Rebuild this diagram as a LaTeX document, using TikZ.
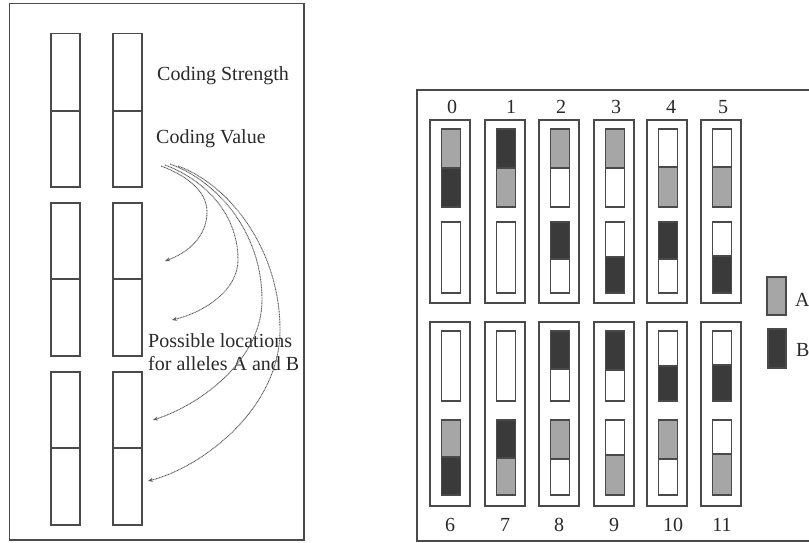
\documentclass[tikz,border=0pt]{standalone}
\usepackage{fontspec}
\setmainfont{Liberation Serif}
\usetikzlibrary{arrows.meta}
\definecolor{lc}{HTML}{4A4A4A}
\definecolor{alA}{HTML}{A6A6A6}
\definecolor{alB}{HTML}{3A3A3A}
\definecolor{tc}{HTML}{2A2A2A}
\newcommand{\pairbox}[6]{%
  \fill[#5] (#1,#2) rectangle (#1+19,#3);
  \fill[#6] (#1,#3) rectangle (#1+19,#4);
  \draw[box] (#1,#3) -- (#1+19,#3);
  \draw[box] (#1,#2) rectangle (#1+19,#4);}
\newcommand{\plainbox}[3]{%
  \draw[box,fill=white] (#1,#2) rectangle (#1+19,#3);}
\begin{document}
\begin{tikzpicture}[x=1pt,y=-1pt,
  box/.style={draw=lc,line width=1.1pt},
  lbl/.style={font=\fontsize{20}{23}\selectfont,inner sep=0pt,text=tc},
  patharrow/.style={draw=black!65,line width=0.9pt,dash pattern=on 1pt off 0.6pt,
    -{Stealth[length=5pt,width=4pt]}}]
\useasboundingbox (0,0) rectangle (809,543);
\clip (0,0) rectangle (809,543);
\fill[white] (0,0) rectangle (809,543);

% ---------- left panel ----------
\draw[box] (9.5,3.5) rectangle (304,540);
\foreach \x in {51,113}{
  \foreach \t/\m/\b in {33.5/111/187, 203/279/356, 372/448/525}{
    \draw[box] (\x,\t) rectangle (\x+29,\b);
    \draw[box] (\x,\m) -- (\x+29,\m);
  }
}
\node[lbl,anchor=base west] (cs) at (157,81) {Coding Strength};
\node[lbl,anchor=base west] (cv) at (156,143) {Coding Value};
\node[lbl,anchor=base west] (pl1) at (148,347) {Possible locations};
\node[lbl,anchor=base west] (pl2) at (148,370) {for alleles A and B};

\coordinate (s1) at (161,166);
\coordinate (s2) at (165,165);
\coordinate (s3) at (170,164);
\coordinate (s4) at (178,166);
\coordinate (e1) at (165,261);
\coordinate (e2) at (172,320);
\coordinate (e3) at (153,420);
\coordinate (e4) at (148,481);
\draw[patharrow] (s1) .. controls (185,175) and (207,190) .. (207,212)
  .. controls (207,235) and (190,252) .. (e1);
\draw[patharrow] (s2) .. controls (200,178) and (238,210) .. (238,260)
  .. controls (238,290) and (205,312) .. (e2);
\draw[patharrow] (s3) .. controls (215,180) and (262,230) .. (262,300)
  .. controls (262,360) and (200,405) .. (e3);
\draw[patharrow] (s4) .. controls (230,185) and (280,250) .. (280,330)
  .. controls (280,410) and (200,468) .. (e4);

% ---------- right panel ----------
\draw[box] (417,90) rectangle (830,541);

% top row
\foreach \o in {430,485,539,594,647,701}{
  \draw[box] (\o,120) rectangle (\o+40,303);
}
\pairbox{441.5}{129}{168}{207}{alA}{alB}
\plainbox{441.5}{222}{293}
\pairbox{496.5}{129}{168}{207}{alB}{alA}
\plainbox{496.5}{222}{293}
\pairbox{550.5}{129}{168}{207}{alA}{white}
\pairbox{550.5}{222}{259}{293}{alB}{white}
\pairbox{605.5}{129}{168}{207}{alA}{white}
\pairbox{605.5}{222}{257}{293}{white}{alB}
\pairbox{658.5}{129}{167}{207}{white}{alA}
\pairbox{658.5}{222}{259}{293}{alB}{white}
\pairbox{712.5}{129}{167}{207}{white}{alA}
\pairbox{712.5}{222}{256}{293}{white}{alB}

% bottom row
\foreach \o in {430,485,539,594,647,701}{
  \draw[box] (\o,322) rectangle (\o+40,506);
}
\plainbox{441.5}{331}{401}
\pairbox{441.5}{420}{457}{495}{alA}{alB}
\plainbox{496.5}{331}{401}
\pairbox{496.5}{420}{458}{495}{alB}{alA}
\pairbox{550.5}{331}{369}{401}{alB}{white}
\pairbox{550.5}{420}{459}{495}{alA}{white}
\pairbox{605.5}{331}{370}{401}{alB}{white}
\pairbox{605.5}{420}{455}{495}{white}{alA}
\pairbox{658.5}{331}{366}{401}{white}{alB}
\pairbox{658.5}{420}{459}{495}{alA}{white}
\pairbox{712.5}{331}{365}{401}{white}{alB}
\pairbox{712.5}{420}{454}{495}{white}{alA}

% labels
\node[lbl] (n0) at (452,107) {0};
\node[lbl] (n1) at (511,107) {1};
\node[lbl] (n2) at (561,107) {2};
\node[lbl] (n3) at (616,107) {3};
\node[lbl] (n4) at (671,107) {4};
\node[lbl] (n5) at (723,107) {5};
\node[lbl] (n6) at (450,525) {6};
\node[lbl] (n7) at (505,525) {7};
\node[lbl] (n8) at (559,525) {8};
\node[lbl] (n9) at (614,525) {9};
\node[lbl] (n10) at (673,525) {10};
\node[lbl] (n11) at (722,525) {11};

% legend
\draw[box,fill=alA] (767,277) rectangle (786,315);
\draw[box,fill=alB] (768,329) rectangle (786,368);
\node[lbl,anchor=base west] (la) at (795,306) {A};
\node[lbl,anchor=base west] (lb) at (796,356) {B};
\end{tikzpicture}
\end{document}
